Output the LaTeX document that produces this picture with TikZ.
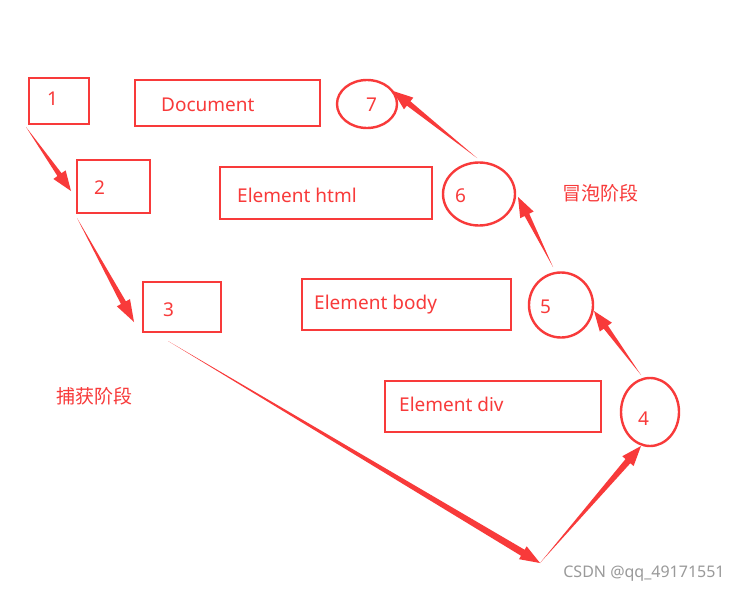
\documentclass[tikz,border=0pt]{standalone}
\usepackage{fontspec}
\setmainfont{Noto Sans}
\newfontfamily\cjk{Noto Sans CJK SC}
\usetikzlibrary{shapes.geometric,calc}
\definecolor{rd}{HTML}{F83A3A}
\definecolor{wm}{HTML}{9A9A9A}
\tikzset{
  boxn/.style={draw=rd,line width=2.8pt,inner sep=0pt,rectangle},
  ringn/.style={draw=rd,line width=2.4pt,inner sep=0pt,ellipse},
  lbl/.style={text=rd,font=\fontsize{19}{21}\selectfont,inner sep=0pt,anchor=west},
  cn/.style={text=rd,font=\cjk\fontsize{19}{21}\selectfont,inner sep=0pt},
}
\newcommand\taperarrow[5]{%
  \coordinate (tmpC) at ($(#2)!#3pt!(#1)$);
  \fill[rd] (#1) -- ($(tmpC)!#5pt!-90:(#2)$) -- ($(tmpC)!#4pt!-90:(#2)$) -- (#2)
     -- ($(tmpC)!#4pt!90:(#2)$) -- ($(tmpC)!#5pt!90:(#2)$) -- cycle;}
\begin{document}
\begin{tikzpicture}[x=1pt,y=-1pt]
\useasboundingbox[fill=white] (0,0) rectangle (744,591);
% boxes
\node[boxn,minimum width=60,minimum height=46] (b1) at (59,101) {};
\node[lbl] at (47,99) {1};
\node[boxn,minimum width=185,minimum height=46] (bdoc) at (227.5,103) {};
\node[lbl] at (161,105) {Document};
\node[boxn,minimum width=73,minimum height=53] (b2) at (113.5,186.5) {};
\node[lbl] at (94,188) {2};
\node[boxn,minimum width=212,minimum height=52] (bhtml) at (326,193) {};
\node[lbl] at (237,195) {Element html};
\node[boxn,minimum width=78,minimum height=50] (b3) at (182,307) {};
\node[lbl] at (163,310) {3};
\node[boxn,minimum width=209,minimum height=51] (bbody) at (406.5,304.5) {};
\node[lbl] at (314,305) {Element body};
\node[boxn,minimum width=216,minimum height=51] (bdiv) at (493,406.5) {};
\node[lbl] at (399,404) {Element div};
% circles
\node[ringn,minimum width=60,minimum height=48] (c7) at (367,104) {};
\node[lbl] at (366,105) {7};
\node[ringn,minimum width=72,minimum height=63] (c6) at (479,194) {};
\node[lbl] at (455,196) {6};
\node[ringn,minimum width=64,minimum height=65] (c5) at (561,305) {};
\node[lbl] at (540,307) {5};
\node[ringn,minimum width=58,minimum height=68] (c4) at (650,412) {};
\node[lbl] at (638,419) {4};
% phase labels
\node[cn] (bub) at (600,193) {冒泡阶段};
\node[cn] (cap) at (94,396) {捕获阶段};
\node[text=wm,font=\fontsize{16}{18}\selectfont,inner sep=0pt] (wmk) at (644,574) {CSDN @qq\_49171551};
% arrow end points
\coordinate (t12) at (26,127);
\coordinate (h12) at (71,191);
\coordinate (t23) at (77,218);
\coordinate (h23) at (134,322);
\coordinate (t34) at (168,341);
\coordinate (turn) at (540,563);
\coordinate (h4) at (641,446);
\coordinate (t45) at (641,375);
\coordinate (h45) at (594,311);
\coordinate (t56) at (553,267);
\coordinate (h56) at (518,197);
\coordinate (t67) at (477,158);
\coordinate (h67) at (393,91);
% arrows
\taperarrow{t12}{h12}{20}{7.5}{2.5}
\taperarrow{t23}{h23}{22}{7.5}{2.8}
\taperarrow{t34}{turn}{20}{7.5}{3.5}
\taperarrow{turn}{h4}{20}{7.5}{3.2}
\taperarrow{t45}{h45}{20}{7.5}{2.6}
\taperarrow{t56}{h56}{20}{7.5}{2.6}
\taperarrow{t67}{h67}{20}{7.5}{2.8}
\end{tikzpicture}
\end{document}
